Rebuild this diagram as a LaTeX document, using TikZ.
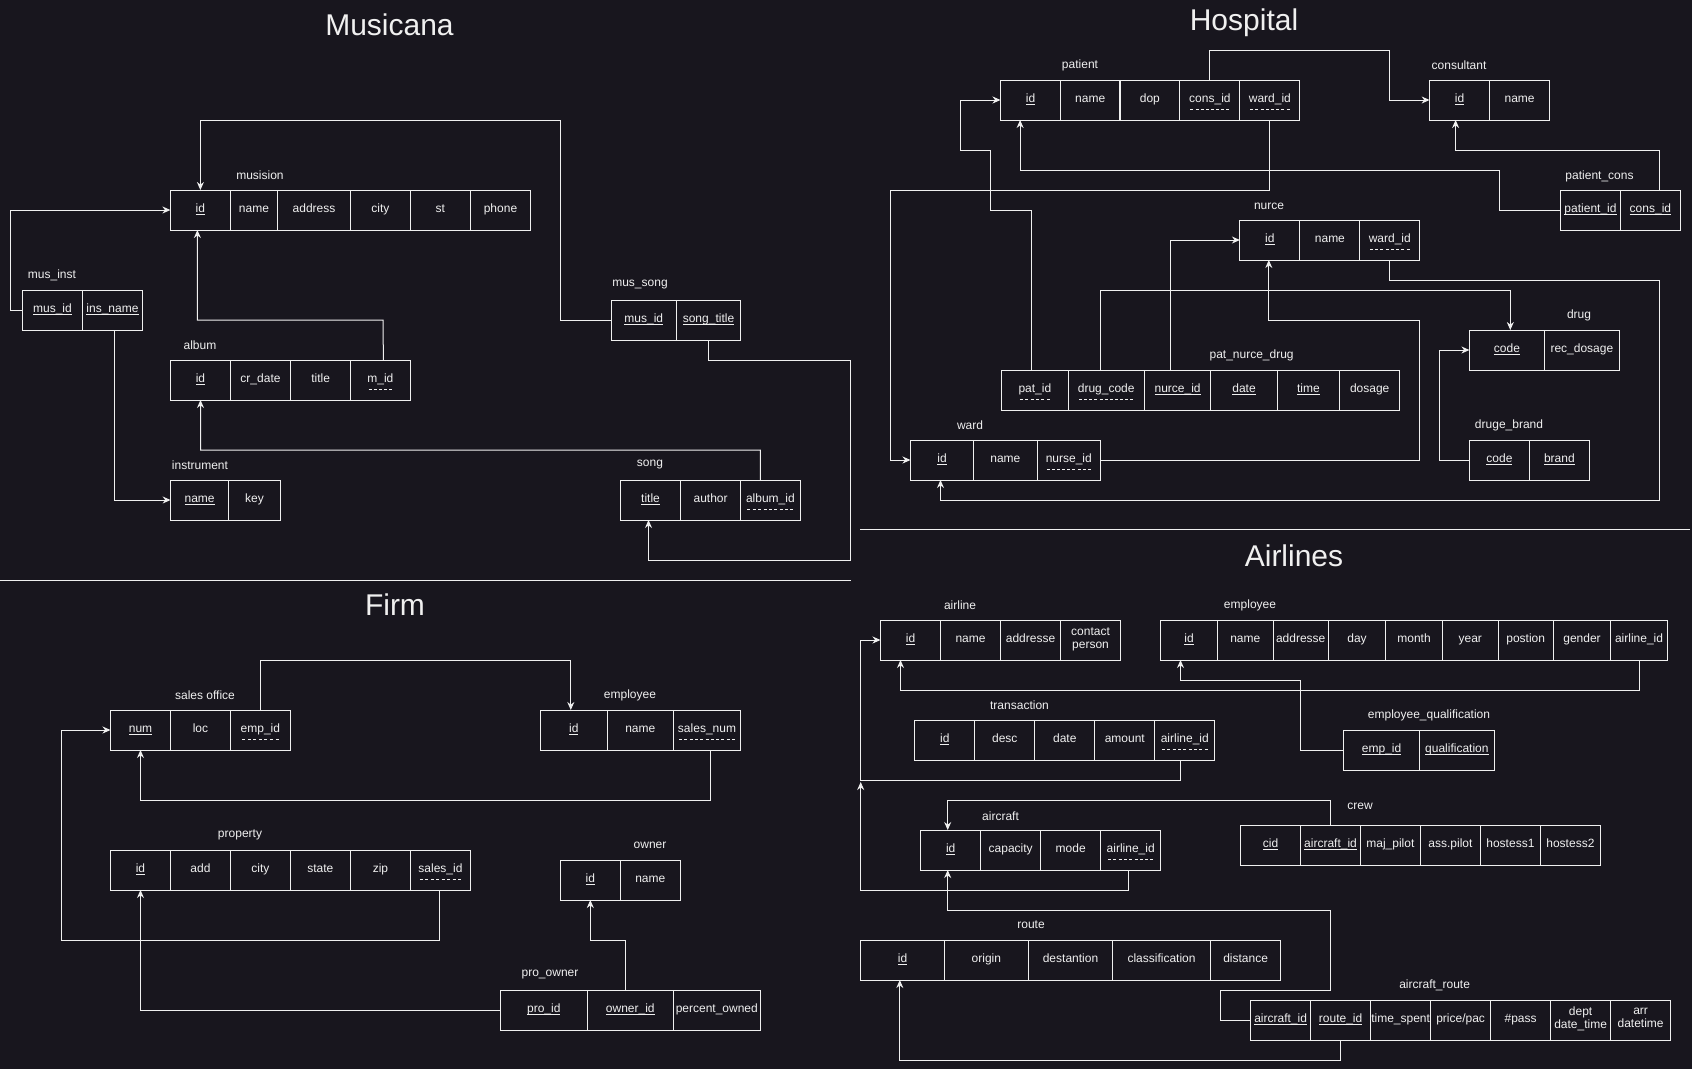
\documentclass[tikz,border=0pt]{standalone}
\usepackage{fontspec}
\setmainfont{Liberation Sans}
\usetikzlibrary{arrows.meta}

\definecolor{bgc}{HTML}{18161E}
\definecolor{lnc}{HTML}{F0F0F0}
\newsavebox{\keybox}
% primary key: solid underline, foreign key: dashed underline
\newcommand{\pk}[1]{\sbox\keybox{#1}\usebox\keybox\llap{\raisebox{-2.5pt}[0pt][0pt]{\rule{\wd\keybox}{0.9pt}}}}
\newcommand{\fk}[1]{\sbox\keybox{#1}\usebox\keybox\llap{\raisebox{-7pt}[0pt][0pt]{\hbox to\wd\keybox{\xleaders\hbox to 5pt{\hss\rule{3pt}{0.9pt}\hss}\hfill}}}}

\begin{document}
\begin{tikzpicture}[x=1pt, y=-1pt,
  cell/.style={draw=lnc, line width=1pt, minimum width=60pt, minimum height=40pt,
    inner sep=0pt, outer sep=0pt, text=lnc, align=center,
    font=\fontsize{12}{13}\selectfont, execute at begin node=\strut},
  tname/.style={text=lnc, font=\fontsize{12}{14}\selectfont},
  sect/.style={text=lnc, font=\fontsize{30}{36}\selectfont},
  link/.style={draw=lnc, line width=1pt, -{Stealth[length=8pt,width=7pt]}},
  plain/.style={draw=lnc, line width=1pt}]
  \useasboundingbox (0,0) rectangle (1692,1069);
  \fill[bgc] (0,0) rectangle (1692,1069);

  % section titles and separators
  \node[sect] (musicana) at (389.5,25) {Musicana};
  \node[sect] (hospital) at (1244,23) {Hospital};
  \node[sect] (firm) at (395,605) {Firm};
  \node[sect] (airlines) at (1294,556) {Airlines};
  \draw[plain] (0,580.3) -- (850.7,580.3);
  \draw[plain] (860.3,529.3) -- (1690,529.3);

  %%%%%%%%%%%%%%%% Musicana %%%%%%%%%%%%%%%%
  % musision
  \node[tname] (musision) at (260,175) {musision};
  \node[cell] (musision-id) at (200.4,210) {\pk{id}};
  \node[cell, minimum width=47] (musision-name) at (254,210) {name};
  \node[cell, minimum width=73] (musision-address) at (314,210) {address};
  \node[cell] (musision-city) at (380.4,210) {city};
  \node[cell] (musision-st) at (440.4,210) {st};
  \node[cell] (musision-phone) at (500.5,210) {phone};

  % mus_inst
  \node[tname] (musinst) at (52,275) {mus\_inst};
  \node[cell] (musinst-musid) at (52.5,310) {\pk{mus\_id}};
  \node[cell] (musinst-insname) at (112.5,310) {\pk{ins\_name}};

  % album
  \node[tname] (album) at (200,345) {album};
  \node[cell] (album-id) at (200.5,380) {\pk{id}};
  \node[cell] (album-crdate) at (260.5,380) {cr\_date};
  \node[cell] (album-title) at (320.6,380) {title};
  \node[cell] (album-mid) at (380.4,380) {\fk{m\_id}};

  % instrument
  \node[tname] (instrument) at (200,465) {instrument};
  \node[cell, minimum width=58] (instrument-name) at (199.6,500) {\pk{name}};
  \node[cell, minimum width=52] (instrument-key) at (254.5,500) {key};

  % mus_song
  \node[tname] (mussong) at (640,285) {mus\_song};
  \node[cell, minimum width=65] (mussong-musid) at (643.8,320) {\pk{mus\_id}};
  \node[cell, minimum width=64] (mussong-songtitle) at (708.5,320) {\pk{song\_title}};

  % song
  \node[tname] (song) at (650,465) {song};
  \node[cell] (song-title) at (650.5,500) {\pk{title}};
  \node[cell] (song-author) at (710.6,500) {author};
  \node[cell] (song-albumid) at (770.4,500) {\fk{album\_id}};

  % links
  \draw[link] (mussong-musid.west) -- (560,320) -- (560,120) -| (musision-id.north);
  \draw[link] (musinst-musid.west) -- (10.4,310) |- (musision-id.west);
  \draw[link] ([xshift=3]album-mid.north) -- (383,320) -| ([xshift=-3]musision-id.south);
  \draw[link] ([xshift=2]musinst-insname.south) |- (instrument-name.west);
  \draw[link] ([xshift=-10]song-albumid.north) -- (760.3,450) -| (album-id.south);
  \draw[link] (mussong-songtitle.south) -- (708.5,360) -- (850.5,360) -- (850.5,560.3) -| ([xshift=-2]song-title.south);

  %%%%%%%%%%%%%%%% Hospital %%%%%%%%%%%%%%%%
  % patient
  \node[tname] (patient) at (1080,65) {patient};
  \node[cell] (patient-id) at (1030.5,100) {\pk{id}};
  \node[cell] (patient-name) at (1090.2,100) {name};
  \node[cell] (patient-dop) at (1149.9,100) {dop};
  \node[cell] (patient-consid) at (1209.9,100) {\fk{cons\_id}};
  \node[cell] (patient-wardid) at (1269.9,100) {\fk{ward\_id}};

  % consultant
  \node[tname] (consultant) at (1459,65) {consultant};
  \node[cell] (consultant-id) at (1459.6,100) {\pk{id}};
  \node[cell] (consultant-name) at (1519.6,100) {name};

  % patient_cons
  \node[tname] (patcons) at (1599.5,176) {patient\_cons};
  \node[cell] (patcons-patientid) at (1590.5,210) {\pk{patient\_id}};
  \node[cell] (patcons-consid) at (1650.4,210) {\pk{cons\_id}};

  % nurce
  \node[tname] (nurce) at (1269,206) {nurce};
  \node[cell] (nurce-id) at (1269.9,240) {\pk{id}};
  \node[cell] (nurce-name) at (1329.9,240) {name};
  \node[cell] (nurce-wardid) at (1389.8,240) {\fk{ward\_id}};

  % pat_nurce_drug
  \node[tname] (pnd) at (1251.6,355) {pat\_nurce\_drug};
  \node[cell, minimum width=66.7] (pnd-patid) at (1034.9,390) {\fk{pat\_id}};
  \node[cell, minimum width=76] (pnd-drugcode) at (1106.2,390) {\fk{drug\_code}};
  \node[cell, minimum width=66.7] (pnd-nurceid) at (1177.6,390) {\pk{nurce\_id}};
  \node[cell, minimum width=66.2] (pnd-date) at (1244,390) {\pk{date}};
  \node[cell, minimum width=62.6] (pnd-time) at (1308.4,390) {\pk{time}};
  \node[cell] (pnd-dosage) at (1369.7,390) {dosage};

  % drug
  \node[tname] (drug) at (1579,315) {drug};
  \node[cell, minimum width=75] (drug-code) at (1506.9,350) {\pk{code}};
  \node[cell, minimum width=75] (drug-recdosage) at (1581.9,350) {rec\_dosage};

  % druge_brand
  \node[tname] (brand) at (1509,425) {druge\_brand};
  \node[cell] (brand-code) at (1499.4,460) {\pk{code}};
  \node[cell] (brand-brand) at (1559.4,460) {\pk{brand}};

  % ward
  \node[tname] (ward) at (970,425) {ward};
  \node[cell, minimum width=63] (ward-id) at (942,460) {\pk{id}};
  \node[cell, minimum width=63.6] (ward-name) at (1005.4,460) {name};
  \node[cell, minimum width=63.1] (ward-nurseid) at (1068.8,460) {\fk{nurse\_id}};

  % links
  \draw[link] (patient-consid.north) -- (1209.9,50.3) -- (1389.8,50.3) |- (consultant-id.west);
  \draw[link] ([xshift=8.8]patcons-consid.north) -- (1659.2,150.3) -| ([xshift=-4]consultant-id.south);
  \draw[link] (patcons-patientid.west) -- (1499.4,210) -- (1499.4,170.3) -| ([xshift=-10.4]patient-id.south);
  \draw[link] (patient-wardid.south) -- (1269.9,190.3) -- (890.3,190.3) |- (ward-id.west);
  \draw[link] ([xshift=-3.4]pnd-patid.north) -- (1031.5,210.3) -- (990.1,210.3) -- (990.1,150.3) -- (960.1,150.3) |- (patient-id.west);
  \draw[link] ([xshift=-5.9]pnd-drugcode.north) -- (1100.3,290.3) -| ([xshift=3.4]drug-code.north);
  \draw[link] ([xshift=-7.5]pnd-nurceid.north) |- (nurce-id.west);
  \draw[link] (ward-nurseid.east) -- (1419.8,460) -- (1419.8,320.3) -| ([xshift=-1.1]nurce-id.south);
  \draw[link] (nurce-wardid.south) -- (1389.8,280.3) -- (1659.2,280.3) -- (1659.2,500) -| ([xshift=-1.5]ward-id.south);
  \draw[link] (brand-code.west) -- (1439.5,460) |- (drug-code.west);

  %%%%%%%%%%%%%%%% Firm %%%%%%%%%%%%%%%%
  % sales office
  \node[tname] (sales) at (205,695) {sales office};
  \node[cell] (sales-num) at (140.5,730) {\pk{num}};
  \node[cell] (sales-loc) at (200.5,730) {loc};
  \node[cell] (sales-empid) at (260.4,730) {\fk{emp\_id}};

  % employee
  \node[tname] (femp) at (630,695) {employee};
  \node[cell, minimum width=66.9] (femp-id) at (573.8,730) {\pk{id}};
  \node[cell, minimum width=66.1] (femp-name) at (640.3,730) {name};
  \node[cell, minimum width=67.4] (femp-salesnum) at (707,730) {\fk{sales\_num}};

  % property
  \node[tname] (property) at (240,835) {property};
  \node[cell] (property-id) at (140.5,870) {\pk{id}};
  \node[cell] (property-add) at (200.5,870) {add};
  \node[cell] (property-city) at (260.4,870) {city};
  \node[cell] (property-state) at (320.4,870) {state};
  \node[cell] (property-zip) at (380.5,870) {zip};
  \node[cell] (property-salesid) at (440.5,870) {\fk{sales\_id}};

  % owner
  \node[tname] (owner) at (650,845) {owner};
  \node[cell] (owner-id) at (590.3,880) {\pk{id}};
  \node[cell] (owner-name) at (650.3,880) {name};

  % pro_owner
  \node[tname] (proowner) at (550,975) {pro\_owner};
  \node[cell, minimum width=87] (proowner-proid) at (543.8,1010) {\pk{pro\_id}};
  \node[cell, minimum width=86] (proowner-ownerid) at (630.3,1010) {\pk{owner\_id}};
  \node[cell, minimum width=87] (proowner-percent) at (716.8,1010) {percent\_owned};

  % links
  \draw[link] (sales-empid.north) -- (260.4,660.3) -| ([xshift=-3]femp-id.north);
  \draw[link] ([xshift=3.4]femp-salesnum.south) -- (710.4,800.3) -| (sales-num.south);
  \draw[link] ([xshift=-1.5]property-salesid.south) -- (439,940) -- (61.5,940) |- (sales-num.west);
  \draw[link] (proowner-proid.west) -| (property-id.south);
  \draw[link] ([xshift=-5]proowner-ownerid.north) -- (625.3,940.3) -| (owner-id.south);

  %%%%%%%%%%%%%%%% Airlines %%%%%%%%%%%%%%%%
  % airline
  \node[tname] (airline) at (960,605) {airline};
  \node[cell] (airline-id) at (910.5,640) {\pk{id}};
  \node[cell] (airline-name) at (970.5,640) {name};
  \node[cell] (airline-addresse) at (1030.5,640) {addresse};
  \node[cell] (airline-contact) at (1090.5,640) {contact\\person};

  % employee
  \node[tname] (aemp) at (1250,605) {employee};
  \node[cell, minimum width=56.7] (aemp-id) at (1189,640) {\pk{id}};
  \node[cell, minimum width=55.7] (aemp-name) at (1245.3,640) {name};
  \node[cell, minimum width=55.2] (aemp-addresse) at (1300.7,640) {addresse};
  \node[cell, minimum width=57.3] (aemp-day) at (1357,640) {day};
  \node[cell, minimum width=56.8] (aemp-month) at (1414,640) {month};
  \node[cell, minimum width=55.7] (aemp-year) at (1470.3,640) {year};
  \node[cell, minimum width=55.2] (aemp-postion) at (1525.7,640) {postion};
  \node[cell, minimum width=57.3] (aemp-gender) at (1582,640) {gender};
  \node[cell, minimum width=56.8] (aemp-airlineid) at (1639,640) {airline\_id};

  % transaction
  \node[tname] (trans) at (1019.5,705) {transaction};
  \node[cell] (trans-id) at (944.8,740) {\pk{id}};
  \node[cell] (trans-desc) at (1004.8,740) {desc};
  \node[cell] (trans-date) at (1064.8,740) {date};
  \node[cell] (trans-amount) at (1124.8,740) {amount};
  \node[cell] (trans-airlineid) at (1184.8,740) {\fk{airline\_id}};

  % employee_qualification
  \node[tname] (equal) at (1429,715) {employee\_qualification};
  \node[cell, minimum width=75.6] (equal-empid) at (1381.6,750) {\pk{emp\_id}};
  \node[cell, minimum width=74.9] (equal-qual) at (1456.9,750) {\pk{qualification}};

  % aircraft
  \node[tname] (aircraft) at (1000.5,816) {aircraft};
  \node[cell] (aircraft-id) at (950.7,850) {\pk{id}};
  \node[cell] (aircraft-capacity) at (1010.7,850) {capacity};
  \node[cell] (aircraft-mode) at (1070.7,850) {mode};
  \node[cell] (aircraft-airlineid) at (1130.7,850) {\fk{airline\_id}};

  % crew
  \node[tname] (crew) at (1360,806) {crew};
  \node[cell] (crew-cid) at (1270.5,845) {\pk{cid}};
  \node[cell] (crew-aircraftid) at (1330.5,845) {\pk{aircraft\_id}};
  \node[cell] (crew-majpilot) at (1390.4,845) {maj\_pilot};
  \node[cell] (crew-asspilot) at (1450.4,845) {ass.pilot};
  \node[cell] (crew-hostess1) at (1510.4,845) {hostess1};
  \node[cell] (crew-hostess2) at (1570.4,845) {hostess2};

  % route
  \node[tname] (route) at (1031,925) {route};
  \node[cell, minimum width=83.6] (route-id) at (902.5,960) {\pk{id}};
  \node[cell, minimum width=84.1] (route-origin) at (986.4,960) {origin};
  \node[cell, minimum width=84.1] (route-dest) at (1070.5,960) {destantion};
  \node[cell, minimum width=98] (route-class) at (1161.5,960) {classification};
  \node[cell, minimum width=70.1] (route-distance) at (1245.6,960) {distance};

  % aircraft_route
  \node[tname] (aroute) at (1434.6,985) {aircraft\_route};
  \node[cell] (aroute-aircraftid) at (1280.6,1020) {\pk{aircraft\_id}};
  \node[cell] (aroute-routeid) at (1340.6,1020) {\pk{route\_id}};
  \node[cell] (aroute-timespent) at (1400.6,1020) {time\_spent};
  \node[cell] (aroute-price) at (1460.6,1020) {price/pac};
  \node[cell] (aroute-pass) at (1520.6,1020) {\#pass};
  \node[cell] (aroute-dept) at (1580.6,1020) {dept\\date\_time};
  \node[cell] (aroute-arr) at (1640.6,1020) {arr\\datetime};

  % links
  \coordinate (trjoin) at (860.7,782);
  \draw[link] (aemp-airlineid.south) -- (1639,690.3) -| ([xshift=-10]airline-id.south);
  \draw[link] (equal-empid.west) -- (1300.5,750) -- (1300.5,680.3) -| ([xshift=-8.5]aemp-id.south);
  \draw[link] ([xshift=-4.3]trans-airlineid.south) -- (1180.5,780.3) -- (860.7,780.3) |- (airline-id.west);
  \draw[link] ([xshift=-2.2]aircraft-airlineid.south) -- (1128.5,890.3) -| (trjoin);
  \draw[link] (crew-aircraftid.north) -- (1330.5,800.3) -| ([xshift=-3]aircraft-id.north);
  \draw[link] (aroute-aircraftid.west) -- (1220.1,1020) -- (1220.1,990.3) -- (1330.4,990.3) -- (1330.4,910.3) -| ([xshift=-3]aircraft-id.south);
  \draw[link] (aroute-routeid.south) -- (1340.6,1060) -| ([xshift=-2.7]route-id.south);
\end{tikzpicture}
\end{document}
